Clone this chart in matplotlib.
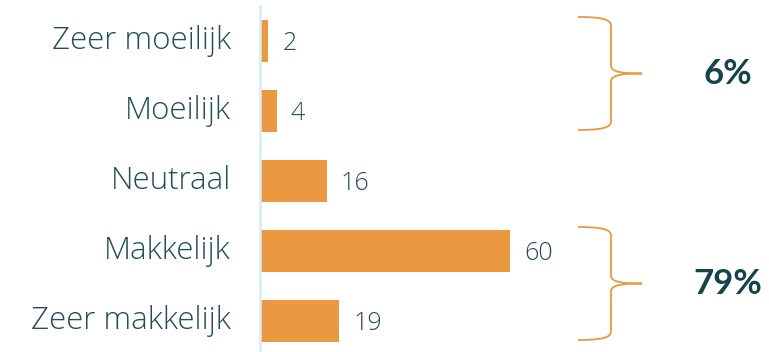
import matplotlib.pyplot as plt
from matplotlib.path import Path
import matplotlib.patches as patches

categories = ["Zeer moeilijk", "Moeilijk", "Neutraal", "Makkelijk", "Zeer makkelijk"]
values = [2, 4, 16, 60, 19]
groups = [(0, 1, "6%"), (3, 4, "79%")]

orange = "#EB9940"
teal = "#15444A"
label_col = "#244F55"
axis_col = "#D3EEF0"

plt.rcParams['font.family'] = ['Open Sans', 'DejaVu Sans']

W, H = 769, 352
fig = plt.figure(figsize=(W / 100, H / 100), dpi=100)
# axes spans from the axis line (x=260px) to right edge
ax = fig.add_axes([260 / W, 0, 1 - 260 / W, 1 - 6 / H])

ypos = list(range(len(categories)))
ax.barh(ypos, values, height=0.61, color=orange)
ax.set_xlim(0, 509 / 4.17)
ax.set_ylim((352 - 41) / 70, -(41 - 6) / 70)

for y, v in zip(ypos, values):
    ax.annotate(str(v), (v, y), xytext=(10, -1.5), textcoords="offset points",
                ha="left", va="center", fontsize=18, color=label_col, fontweight="light")

ax.set_yticks(ypos)
ax.set_yticklabels(categories, fontsize=22.5, color=label_col, fontweight="light",
                   va="center")
ax.tick_params(axis="y", length=0, pad=21)
ax.set_xticks([])
for s in ["top", "right", "bottom"]:
    ax.spines[s].set_visible(False)
ax.spines["left"].set_color(axis_col)
ax.spines["left"].set_linewidth(1.8)

# curly braces in pixel-like units converted to data
def px(x):
    return (x - 260) / 4.17

def py(y):
    return (y - 41) / 70

for g0, g1, label in groups:
    top = 41 + 70 * g0 - 24
    bot = 41 + 70 * g1 + 19
    mid = (top + bot) / 2
    xl, xv, xt = 578, 611, 642
    verts = [
        (xl, top), (xv, top), (xv, top + 5), (xv, top + 10),
        (xv, mid - 8),
        (xv, mid - 1), (xt - 18, mid), (xt, mid),
        (xt - 18, mid), (xv, mid + 1), (xv, mid + 8),
        (xv, bot - 10),
        (xv, bot - 5), (xv, bot), (xl, bot),
    ]
    codes = [Path.MOVETO, Path.CURVE4, Path.CURVE4, Path.CURVE4,
             Path.LINETO,
             Path.CURVE4, Path.CURVE4, Path.CURVE4,
             Path.CURVE4, Path.CURVE4, Path.CURVE4,
             Path.LINETO,
             Path.CURVE4, Path.CURVE4, Path.CURVE4]
    verts = [(px(x), py(y)) for x, y in verts]
    ax.add_patch(patches.PathPatch(Path(verts, codes), fill=False,
                                   edgecolor=orange, linewidth=1.3, clip_on=False))
    ax.text(px(728), py(mid), label, ha="center", va="center",
            fontsize=25, fontweight="bold", color=teal, family=["Lato", "DejaVu Sans"])

fig.savefig("out.png", dpi=100)
